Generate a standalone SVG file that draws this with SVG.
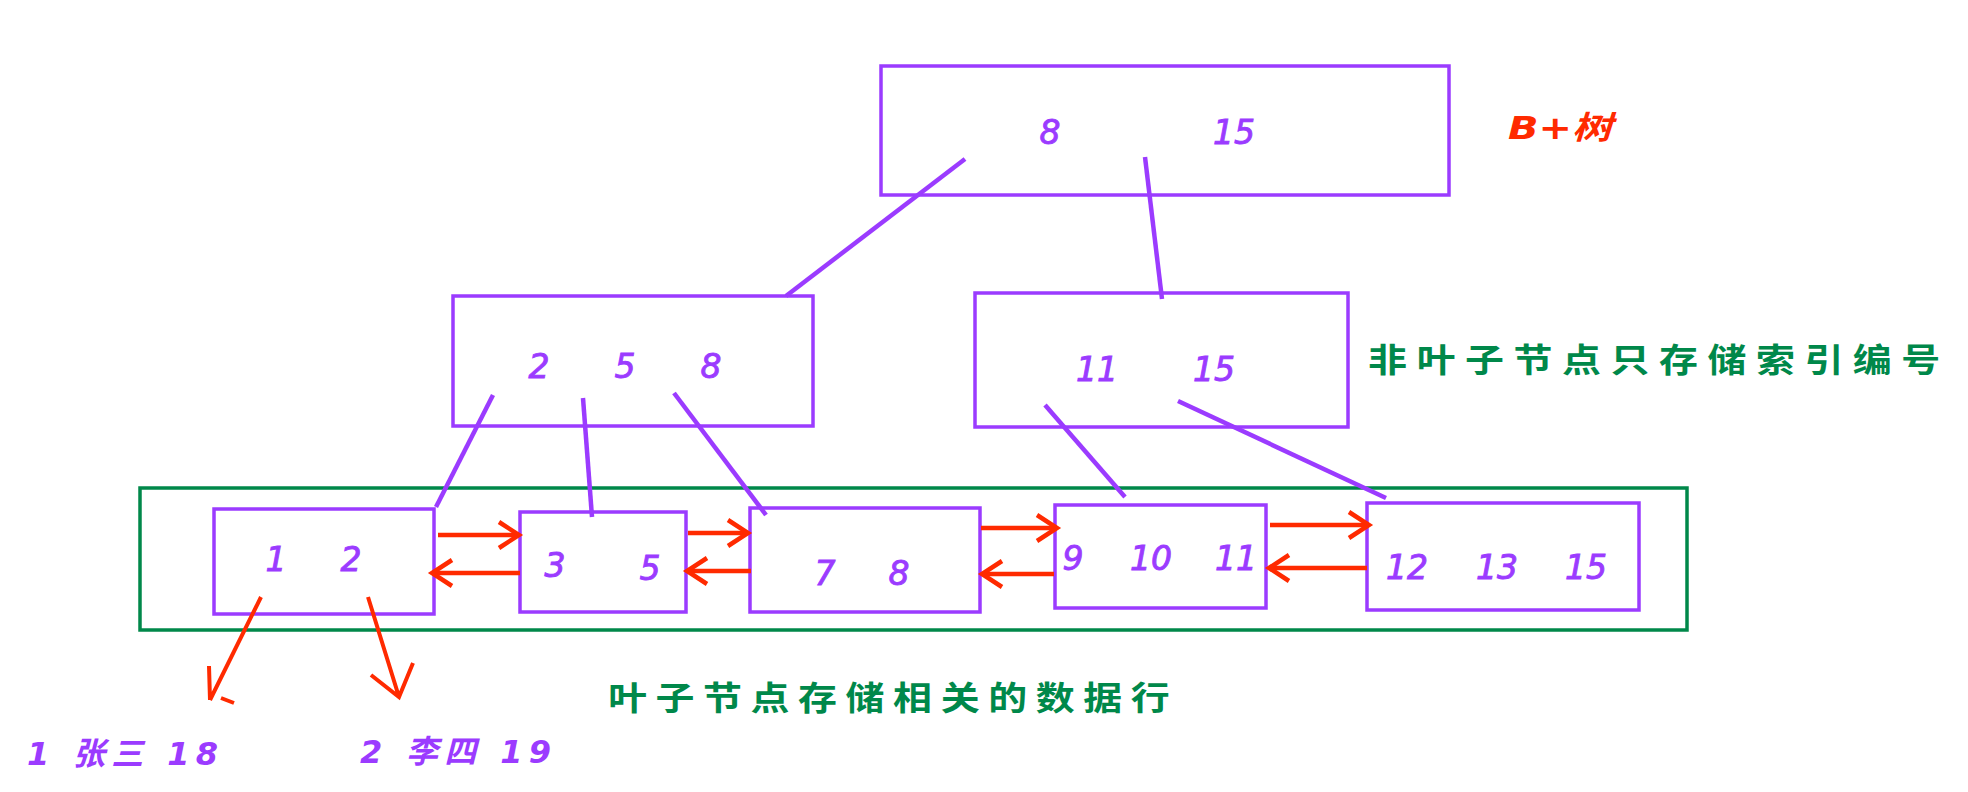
<svg xmlns="http://www.w3.org/2000/svg" width="1968" height="792" viewBox="0 0 1968 792">
<style>
.box{fill:none;stroke:#9b3bff;stroke-width:3.5}
.grp{fill:none;stroke:#00884a;stroke-width:3.5}
.num{font-family:"DejaVu Sans",sans-serif;font-style:italic;font-size:33px;fill:#9b3bff;stroke:#9b3bff;stroke-width:0.9;text-anchor:middle}
.link{fill:none;stroke:#9b3bff;stroke-width:4.5;stroke-linecap:butt}
.ptr{fill:none;stroke:#ff2a00;stroke-width:4.5;marker-end:url(#ah)}
.red{fill:none;stroke:#ff2a00;stroke-width:4}
.note{font-family:"Noto Sans CJK SC",sans-serif;font-weight:bold;font-size:33px;fill:#00884a}
.row{font-family:"DejaVu Sans","Noto Sans CJK SC",sans-serif;font-style:italic;font-weight:bold;font-size:32px;fill:#9b3bff}
</style>
<defs>
<marker id="ah" markerUnits="userSpaceOnUse" markerWidth="24" markerHeight="30" refX="20" refY="13" orient="auto" overflow="visible">
<path d="M0,0 L20,13 L0,26" fill="none" stroke="#ff2a00" stroke-width="4.5"/>
</marker>
</defs>
<rect id="leaf-group" class="grp" x="140" y="488" width="1547" height="142"/>
<g id="root">
<rect class="box" x="881" y="66" width="568" height="129"/>
<text class="num" x="1050" y="144">8</text>
<text class="num" x="1234" y="144">15</text>
</g>
<text id="title" x="1508" y="139" font-family="DejaVu Sans,'Noto Sans CJK SC',sans-serif" font-style="italic" font-weight="bold" font-size="32" fill="#ff2a00" textLength="104" lengthAdjust="spacingAndGlyphs">B+树</text>
<g id="inner-left">
<rect class="box" x="453" y="296" width="360" height="130"/>
<text class="num" x="539" y="378">2</text>
<text class="num" x="625" y="378">5</text>
<text class="num" x="711" y="378">8</text>
</g>
<g id="inner-right">
<rect class="box" x="975" y="293" width="373" height="134"/>
<text class="num" x="1097" y="381">11</text>
<text class="num" x="1214" y="381">15</text>
</g>
<text id="note-inner" class="note" transform="translate(1368,372) scale(1.18,1)" x="0" y="0" textLength="485" lengthAdjust="spacing">非叶子节点只存储索引编号</text>
<g id="leaf1">
<rect class="box" x="214" y="509" width="220" height="105"/>
<text class="num" x="276" y="571">1</text>
<text class="num" x="351" y="571">2</text>
</g>
<g id="leaf2">
<rect class="box" x="520" y="512" width="166" height="100"/>
<text class="num" x="555" y="577">3</text>
<text class="num" x="650" y="580">5</text>
</g>
<g id="leaf3">
<rect class="box" x="750" y="508" width="230" height="104"/>
<text class="num" x="825" y="585">7</text>
<text class="num" x="899" y="585">8</text>
</g>
<g id="leaf4">
<rect class="box" x="1055" y="505" width="211" height="103"/>
<text class="num" x="1073" y="570">9</text>
<text class="num" x="1151" y="570">10</text>
<text class="num" x="1236" y="570">11</text>
</g>
<g id="leaf5">
<rect class="box" x="1367" y="503" width="272" height="107"/>
<text class="num" x="1407" y="579">12</text>
<text class="num" x="1497" y="579">13</text>
<text class="num" x="1586" y="579">15</text>
</g>
<g id="connectors">
<path class="link" d="M965,159 L786,296"/>
<path class="link" d="M1145,157 L1162,299"/>
<path class="link" d="M493,395 L436,507"/>
<path class="link" d="M583,398 L592,517"/>
<path class="link" d="M674,393 L766,515"/>
<path class="link" d="M1045,405 L1125,497"/>
<path class="link" d="M1178,401 L1386,498"/>
<path class="ptr" d="M438,535 L519,535"/>
<path class="ptr" d="M520,573 L432,573"/>
<path class="ptr" d="M688,533 L748,533"/>
<path class="ptr" d="M751,571 L687,571"/>
<path class="ptr" d="M981,528 L1057,528"/>
<path class="ptr" d="M1054,574 L982,574"/>
<path class="ptr" d="M1270,525 L1369,525"/>
<path class="ptr" d="M1367,568 L1269,568"/>
<path class="red" d="M261,597 L210,700 M209,666 L210,700 M221,698 L234,703"/>
<path class="red" d="M368,597 L399,697 M371,675 L399,697 L413,663"/>
</g>
<text id="note-leaf" class="note" transform="translate(608,710) scale(1.18,1)" x="0" y="0" textLength="476" lengthAdjust="spacing">叶子节点存储相关的数据行</text>
<text id="row1" class="row" x="27" y="765" textLength="191" lengthAdjust="spacing">1 张三 18</text>
<text id="row2" class="row" x="360" y="763" textLength="191" lengthAdjust="spacing">2 李四 19</text>
</svg>
